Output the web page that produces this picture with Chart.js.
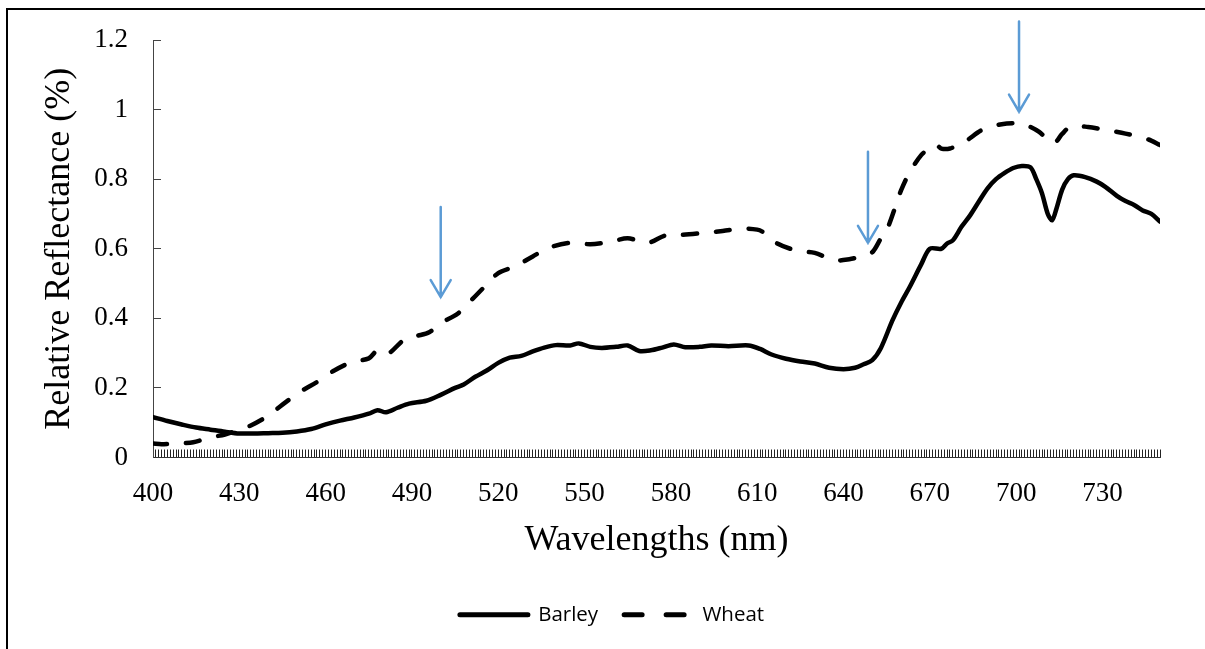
<!DOCTYPE html>
<html>
<head>
<meta charset="utf-8">
<script src="https://cdn.jsdelivr.net/npm/chart.js@4/dist/chart.umd.min.js"></script>
<style>
  body { margin: 0; background: #fff; }
  #frame { position: absolute; left: 6px; top: 8px; width: 1240px; height: 700px; border: 2px solid #000; }
  #wrap { position: absolute; left: 0; top: 0; width: 1205px; height: 649px; }
</style>
</head>
<body>
<div id="frame"></div>
<div id="wrap"><canvas id="chart"></canvas></div>
<script>
// Barley reflectance
const barleyNm = [400,405,410,415,420,425,430,435,440,445,450,455,460,465,470,475,478,481,485,489,
  495,500,505,508,512,516,520,524,528,532,536,540,545,548,552,556,561,565,569,573,577,581,585,590,594,
  600,607,611,615,620,625,630,635,640,644,647,650,653,657,660,663,667,670,674,676,678,681,684,687,690,
  693,696,699,702,705,707,709,711,712.5,714,716,718,720,724,728,731,735,738,741,744,747,750];
const barleyRef = [0.116,0.105,0.095,0.086,0.080,0.074,0.069,0.069,0.070,0.071,0.075,0.082,0.095,0.106,0.115,0.126,0.136,0.130,0.143,0.155,
  0.163,0.180,0.200,0.210,0.232,0.250,0.272,0.287,0.292,0.305,0.316,0.323,0.322,0.328,0.318,0.315,0.318,0.322,0.306,0.308,0.316,0.325,0.317,0.318,0.322,
  0.320,0.322,0.312,0.296,0.284,0.276,0.270,0.258,0.254,0.258,0.268,0.280,0.315,0.394,0.445,0.490,0.555,0.600,0.600,0.615,0.624,0.663,0.696,0.735,0.773,
  0.800,0.818,0.832,0.838,0.834,0.800,0.759,0.700,0.682,0.715,0.770,0.800,0.811,0.806,0.793,0.778,0.752,0.737,0.726,0.710,0.700,0.678];

// Wheat reflectance
const wheatNm = [400,403,407,410,414,420,425,430,434,440,445,451,457,463,469,475,478,480,482,486,488,492,496,
  500,506,511,515,520,526,532,538,545,552,559,565,572,578,584,591,598,605,610,612,617,624,630,637,642,646,650,
  653,655,658,660,663,667,670,672,674,677,680,683,688,695,702,705,708,713,716,719,725,732,738,746,750];
const wheatRef = [0.040,0.038,0.040,0.041,0.044,0.058,0.066,0.080,0.092,0.120,0.152,0.188,0.217,0.250,0.274,0.285,0.309,0.307,0.300,0.330,0.342,0.350,0.360,
  0.386,0.414,0.455,0.489,0.530,0.550,0.578,0.604,0.617,0.613,0.620,0.630,0.617,0.638,0.640,0.645,0.651,0.658,0.655,0.648,0.615,0.594,0.588,0.567,0.570,0.578,0.590,
  0.630,0.653,0.720,0.768,0.820,0.869,0.890,0.900,0.888,0.888,0.900,0.912,0.941,0.958,0.960,0.950,0.936,0.903,0.930,0.952,0.950,0.940,0.931,0.914,0.898];

// blue arrows: wavelength, top and tip of each arrow
const arrowNm = [500, 648.5, 701];
const arrowTop = [0.72, 0.879, 1.253];
const arrowTip = [0.461, 0.617, 0.994];

const serif = 'Liberation Serif';

function pts(xs, ys) {
  return xs.map((x, i) => ({x: x, y: ys[i]}));
}

const arrowPlugin = {
  id: 'arrows',
  afterLayout(chart) {
    // legend sits a bit right of centre in the original
    chart.legend.left += 26;
  },
  afterDraw(chart) {
    const ctx = chart.ctx, xs = chart.scales.x, ys = chart.scales.y;
    ctx.save();
    ctx.strokeStyle = '#5B9BD5';
    ctx.lineWidth = 2.5;
    ctx.lineCap = 'round';
    for (let i = 0; i < arrowNm.length; i++) {
      const x = xs.getPixelForValue(arrowNm[i]);
      const y0 = ys.getPixelForValue(arrowTop[i]);
      const y1 = ys.getPixelForValue(arrowTip[i]);
      ctx.beginPath();
      ctx.moveTo(x, y0);
      ctx.lineTo(x, y1);
      ctx.moveTo(x - 10, y1 - 17);
      ctx.lineTo(x, y1);
      ctx.lineTo(x + 10, y1 - 17);
      ctx.stroke();
    }
    ctx.restore();
  }
};

new Chart(document.getElementById('chart'), {
  type: 'line',
  data: {
    datasets: [
      {
        label: 'Barley',
        data: pts(barleyNm, barleyRef),
        borderColor: '#000',
        backgroundColor: '#000',
        borderWidth: 4.5,
        borderCapStyle: 'round',
        borderJoinStyle: 'round',
        pointRadius: 0,
        tension: 0.3
      },
      {
        label: 'Wheat',
        data: pts(wheatNm, wheatRef),
        borderColor: '#000',
        backgroundColor: '#000',
        borderWidth: 4.5,
        borderDash: [14, 19],
        borderCapStyle: 'round',
        borderJoinStyle: 'round',
        pointRadius: 0,
        tension: 0.3
      }
    ]
  },
  options: {
    responsive: true,
    maintainAspectRatio: false,
    animation: false,
    layout: { padding: { left: 38, right: 45, top: 40, bottom: 14 } },
    plugins: {
      legend: {
        position: 'bottom',
        labels: {
          usePointStyle: true,
          pointStyle: 'line',
          pointStyleWidth: 68,
          boxWidth: 68,
          padding: 26,
          color: '#000',
          font: { family: 'Open Sans', size: 20.5 },
          generateLabels: chart => {
            const items = Chart.defaults.plugins.legend.labels.generateLabels(chart);
            items.forEach(it => {
              const ds = chart.data.datasets[it.datasetIndex];
              it.lineDash = ds.borderDash ? [18, 24] : [];
              it.lineCap = 'round';
              it.lineWidth = 5;
              it.strokeStyle = '#000';
            });
            return items;
          }
        }
      },
      tooltip: { enabled: false }
    },
    scales: {
      x: {
        type: 'linear',
        min: 400,
        max: 750,
        afterFit: s => { s.height = 121; },
        ticks: {
          stepSize: 1,
          autoSkip: false,
          maxRotation: 0,
          padding: 28,
          color: '#000',
          font: { family: serif, size: 27 },
          callback: v => ((v - 400) % 30 === 0 ? String(v) : '')
        },
        grid: { drawOnChartArea: false, tickLength: -8, color: '#222' },
        border: { color: '#333', width: 1 },
        title: {
          display: true,
          text: 'Wavelengths (nm)',
          color: '#000',
          padding: { top: 0, bottom: 16 },
          font: { family: serif, size: 36 }
        }
      },
      y: {
        min: 0,
        max: 1.2,
        afterFit: s => { s.width = 115; s.paddingTop = 0; s.paddingBottom = 0; },
        ticks: {
          stepSize: 0.2,
          padding: 33,
          color: '#000',
          font: { family: serif, size: 27 },
          callback: v => String(Number(v.toFixed(1)))
        },
        grid: { drawOnChartArea: false, tickLength: -8, color: '#444' },
        border: { color: '#444', width: 1 },
        title: {
          display: true,
          text: 'Relative Reflectance (%)',
          color: '#000',
          padding: 0,
          font: { family: serif, size: 36 }
        }
      }
    }
  },
  plugins: [arrowPlugin]
});
</script>
</body>
</html>
